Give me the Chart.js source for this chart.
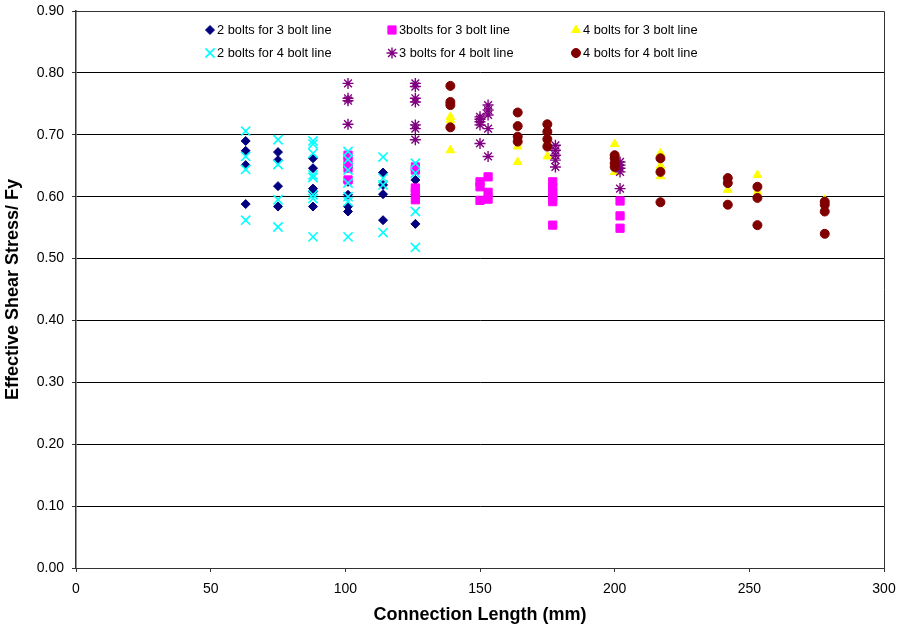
<!DOCTYPE html>
<html>
<head>
<meta charset="utf-8">
<script src="https://cdn.jsdelivr.net/npm/chart.js@4.4.1/dist/chart.umd.min.js"></script>
<style>
  html, body { margin: 0; padding: 0; background: #fff; }
  #wrap { width: 901px; height: 629px; }
</style>
</head>
<body>
<div id="wrap"><canvas id="grafico"></canvas></div>
<script>
// series names (legend, row by row)
const seriesNames = [
  "2 bolts for 3 bolt line", "3bolts for 3 bolt line", "4 bolts for 3 bolt line",
  "2 bolts for 4 bolt line", "3 bolts for 4 bolt line", "4 bolts for 4 bolt line"
]

// 2 bolts for 3 bolt line
const s1X = [63, 63, 63, 63, 75, 75, 75, 75, 88, 88, 88, 88, 88, 101, 101, 101, 101, 101, 114, 114, 114, 114, 126, 126, 126]
const s1Y = [0.690, 0.674, 0.651, 0.588, 0.672, 0.659, 0.617, 0.584, 0.662, 0.646, 0.613, 0.608, 0.584, 0.648, 0.624, 0.603, 0.584, 0.576, 0.639, 0.619, 0.604, 0.562, 0.627, 0.603, 0.556]

// 3bolts for 3 bolt line
const s2X = [101, 101, 101, 101, 126, 126, 126, 126, 126, 150, 150, 150, 153, 153, 153, 177, 177, 177, 177, 177, 177, 202, 202, 202]
const s2Y = [0.667, 0.657, 0.646, 0.627, 0.648, 0.643, 0.614, 0.608, 0.595, 0.624, 0.616, 0.594, 0.632, 0.607, 0.596, 0.624, 0.615, 0.607, 0.600, 0.592, 0.554, 0.593, 0.569, 0.549]

// 4 bolts for 3 bolt line
const s3X = [139, 139, 139, 164, 164, 175, 175, 200, 200, 217, 217, 217, 242, 242, 253, 253, 278]
const s3Y = [0.729, 0.724, 0.675, 0.681, 0.656, 0.690, 0.665, 0.685, 0.640, 0.670, 0.650, 0.633, 0.625, 0.611, 0.635, 0.608, 0.595]

// 2 bolts for 4 bolt line
const s4X = [63, 63, 63, 63, 75, 75, 75, 75, 88, 88, 88, 88, 88, 88, 88, 88, 101, 101, 101, 101, 101, 101, 101, 114, 114, 114, 114, 126, 126, 126, 126]
const s4Y = [0.706, 0.665, 0.644, 0.562, 0.692, 0.652, 0.595, 0.551, 0.690, 0.685, 0.670, 0.635, 0.631, 0.603, 0.597, 0.535, 0.673, 0.660, 0.643, 0.622, 0.600, 0.592, 0.535, 0.664, 0.630, 0.619, 0.542, 0.654, 0.638, 0.576, 0.518]

// 3 bolts for 4 bolt line
const s5X = [101, 101, 101, 101, 126, 126, 126, 126, 126, 126, 126, 150, 150, 150, 150, 150, 153, 153, 153, 153, 153, 178, 178, 178, 178, 178, 202, 202, 202, 202, 202]
const s5Y = [0.783, 0.759, 0.755, 0.717, 0.783, 0.778, 0.759, 0.753, 0.716, 0.710, 0.692, 0.729, 0.725, 0.721, 0.716, 0.686, 0.748, 0.740, 0.732, 0.710, 0.665, 0.683, 0.675, 0.667, 0.659, 0.648, 0.656, 0.651, 0.646, 0.640, 0.613]

// 4 bolts for 4 bolt line
const s6X = [139, 139, 139, 139, 164, 164, 164, 164, 175, 175, 175, 175, 200, 200, 200, 200, 217, 217, 217, 242, 242, 242, 253, 253, 253, 278, 278, 278, 278]
const s6Y = [0.779, 0.753, 0.748, 0.712, 0.736, 0.714, 0.697, 0.689, 0.717, 0.705, 0.693, 0.681, 0.667, 0.662, 0.654, 0.648, 0.662, 0.640, 0.591, 0.630, 0.622, 0.587, 0.616, 0.598, 0.554, 0.592, 0.587, 0.576, 0.540]

// axis ticks
const xTicks = [0, 50, 100, 150, 200, 250, 300]
const yTicks = [0.0, 0.1, 0.2, 0.3, 0.4, 0.5, 0.6, 0.7, 0.8, 0.9]

const xs = [s1X, s2X, s3X, s4X, s5X, s6X]
const ys = [s1Y, s2Y, s3Y, s4Y, s5Y, s6Y]

const looks = [
  { color: '#000080', style: 'rectRot', r: 4.5, w: 1 },
  { color: '#FF00FF', style: 'rect', r: 5.8, w: 1 },
  { color: '#FFFF00', style: 'triangle', r: 5, w: 1 },
  { color: '#00FFFF', style: 'crossRot', r: 6.5, w: 1.6 },
  { color: '#800080', style: 'star', r: 5.5, w: 1.4 },
  { color: '#800000', style: 'circle', r: 4.5, w: 1 }
]

const datasets = seriesNames.map((name, i) => ({
  label: name,
  data: xs[i].map((x, j) => ({ x: x, y: ys[i][j] })),
  pointStyle: looks[i].style,
  pointRadius: looks[i].r,
  pointHoverRadius: looks[i].r,
  pointBorderWidth: looks[i].w,
  borderColor: looks[i].color,
  backgroundColor: looks[i].color,
  order: 6 - i,
  showLine: false
}))

// legend inside the plot + top/right border of the plot
const legendPos = [
  [210, 30], [392, 30], [576, 30],
  [210, 53], [392, 53], [576, 53]
]

const plotExtras = {
  id: 'plotExtras',
  afterDraw(chart) {
    const ctx = chart.ctx
    const a = chart.chartArea
    ctx.save()
    ctx.strokeStyle = '#333'
    ctx.lineWidth = 1
    ctx.beginPath()
    ctx.moveTo(a.left, a.top + 0.5)
    ctx.lineTo(a.right + 0.5, a.top + 0.5)
    ctx.lineTo(a.right + 0.5, a.bottom)
    ctx.stroke()

    ctx.font = '12.8px "Liberation Sans", Arial, sans-serif'
    ctx.fillStyle = '#000'
    ctx.textBaseline = 'middle'
    ctx.textAlign = 'left'
    legendPos.forEach((p, i) => {
      const lk = looks[i]
      ctx.fillStyle = lk.color
      ctx.strokeStyle = lk.color
      ctx.lineWidth = lk.w
      Chart.helpers.drawPoint(ctx, { pointStyle: lk.style, radius: lk.r, rotation: 0, borderWidth: lk.w }, p[0], p[1])
      ctx.fillStyle = '#000'
      ctx.fillText(seriesNames[i], p[0] + 7, p[1])
    })
    ctx.restore()
  }
}

const ctx = document.getElementById('grafico').getContext('2d')

const chartGraph = new Chart(ctx, {
  type: 'scatter',
  data: { datasets: datasets },
  plugins: [plotExtras],
  options: {
    responsive: true,
    maintainAspectRatio: false,
    animation: false,
    layout: { padding: { left: 0, right: 17, top: 0, bottom: 0 } },
    plugins: {
      legend: { display: false },
      tooltip: { enabled: false }
    },
    scales: {
      x: {
        type: 'linear',
        min: 0,
        max: 300,
        afterBuildTicks: s => { s.ticks = xTicks.map(v => ({ value: v })) },
        afterFit: s => { s.height = 61; s.paddingRight = 0; s.paddingLeft = 0 },
        grid: { drawOnChartArea: false, tickLength: 4, color: '#333' },
        border: { color: '#333', width: 1 },
        ticks: {
          color: '#000',
          padding: 9,
          font: { family: '"Liberation Sans", Arial, sans-serif', size: 14 }
        },
        title: {
          display: true,
          text: 'Connection Length (mm)',
          color: '#000',
          padding: { top: 0, bottom: 3 },
          font: { family: '"Liberation Sans", Arial, sans-serif', size: 18, weight: 'bold' }
        }
      },
      y: {
        type: 'linear',
        min: 0,
        max: 0.9,
        afterBuildTicks: s => { s.ticks = yTicks.map(v => ({ value: v })) },
        afterFit: s => { s.width = 76; s.paddingTop = 11 },
        grid: { color: '#000', tickColor: '#333', tickLength: 4, lineWidth: 1 },
        border: { color: '#333', width: 1.5 },
        ticks: {
          color: '#000',
          padding: 8,
          callback: v => v.toFixed(2),
          font: { family: '"Liberation Sans", Arial, sans-serif', size: 14 }
        },
        title: {
          display: true,
          text: 'Effective Shear Stress/ Fy',
          color: '#000',
          padding: { top: 2, bottom: 0 },
          font: { family: '"Liberation Sans", Arial, sans-serif', size: 18, weight: 'bold' }
        }
      }
    }
  }
})
</script>
</body>
</html>
